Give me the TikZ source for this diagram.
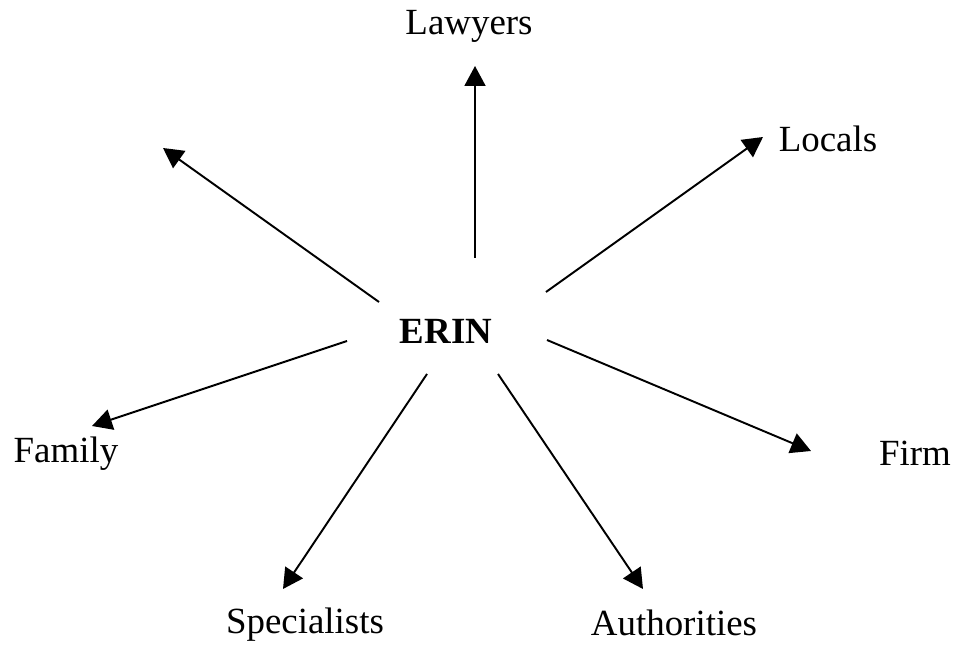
\documentclass[tikz,border=0pt]{standalone}
\usepackage{fontspec}
\setmainfont{Liberation Serif}
\usetikzlibrary{arrows.meta}
\begin{document}
\begin{tikzpicture}[>={Triangle[length=0.4cm,width=0.42cm]}, line width=1.1pt, x=0.02cm, y=-0.02cm, font=\fontsize{21}{25}\selectfont]

\useasboundingbox (0,0) rectangle (964,648);

\node (erin) at (446,331) {\textbf{ERIN}};

\node[anchor=base] (lawyers) at (469,35) {Lawyers};
\node[anchor=base] (locals) at (828,152) {Locals};
\node[anchor=base] (family) at (66,463) {Family};
\node[anchor=base] (firm) at (915,466) {Firm};
\node[anchor=base] (specialists) at (305,633) {Specialists};
\node[anchor=base] (authorities) at (674,635) {Authorities};


\coordinate (tup) at (475,258);  \coordinate (hup) at (475,66);
\coordinate (tul) at (379,302);  \coordinate (hul) at (163,148);
\coordinate (tur) at (546,292);  \coordinate (hur) at (763,137);
\coordinate (tl) at (347,341);   \coordinate (hl) at (92,426);
\coordinate (tr) at (547,340);   \coordinate (hr) at (811,451);
\coordinate (tdl) at (427,374);  \coordinate (hdl) at (283,589);
\coordinate (tdr) at (498,374);  \coordinate (hdr) at (643,589);

\draw[->] (tup)--(hup);
\draw[->] (tul)--(hul);
\draw[->] (tur)--(hur);
\draw[->] (tl)--(hl);
\draw[->] (tr)--(hr);
\draw[->] (tdl)--(hdl);
\draw[->] (tdr)--(hdr);


\end{tikzpicture}
\end{document}
